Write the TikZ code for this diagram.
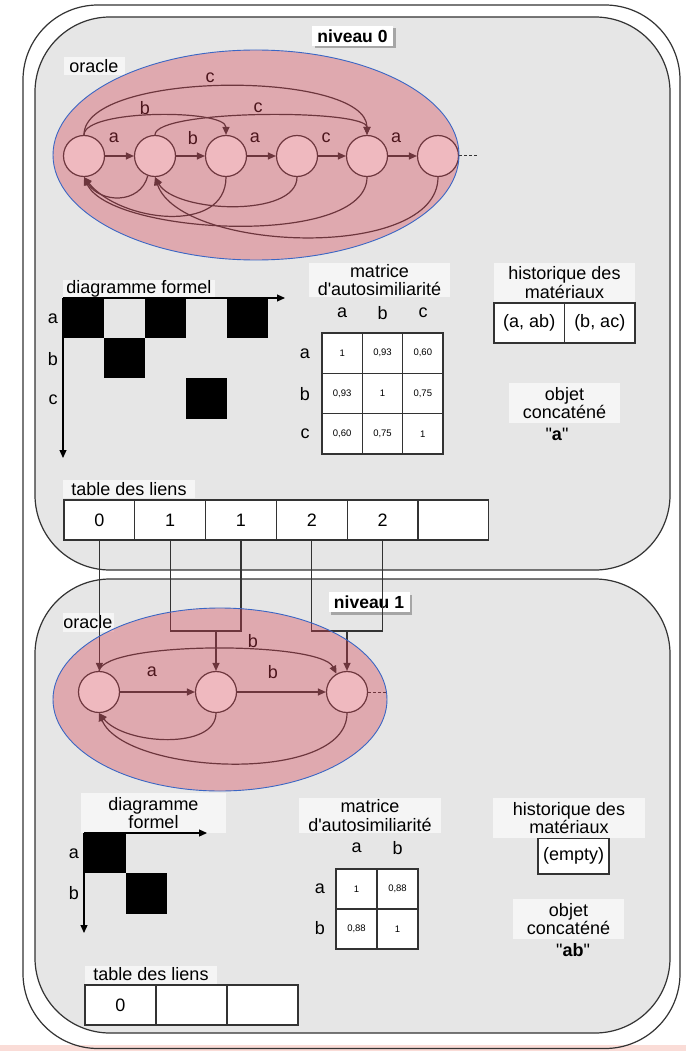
\documentclass[tikz,border=0pt]{standalone}
\usepackage{fontspec}
\setmainfont{Liberation Sans}[Ligatures=TeXOff]
\usetikzlibrary{arrows.meta,shapes.geometric,shadows}
\definecolor{boxgray}{HTML}{E6E6E6}
\definecolor{lblbg}{HTML}{F5F5F5}
\definecolor{linec}{HTML}{333333}
\definecolor{oraclepink}{RGB}{213,61,80}
\definecolor{oracleblue}{HTML}{3A66C4}
\definecolor{stripc}{HTML}{FADCD7}
\begin{document}
\begin{tikzpicture}[x=1pt,y=-1pt,
  lvl/.style={draw=linec, line width=1.2pt, fill=boxgray, rounded corners=75pt},
  lblbox/.style={fill=lblbg, inner sep=0pt, align=center, font=\fontsize{18}{18.5}\selectfont},
  txt/.style={inner sep=0pt, font=\fontsize{18}{20}\selectfont},
  st/.style={circle, draw=linec, fill=white, minimum size=41pt, inner sep=0pt, line width=1.2pt},
  edge/.style={draw=linec, line width=1.2pt, -{Triangle[length=8pt,width=7pt]}},
  cell/.style={draw=linec, fill=white, line width=1.2pt, inner sep=0pt, minimum height=40pt, font=\fontsize{18}{20}\selectfont},
  mcell/.style={draw=linec, fill=white, line width=1.2pt, inner sep=0pt, minimum width=40.5pt, minimum height=40.5pt, font=\fontsize{9.5}{11}\selectfont},
  axis/.style={draw=black, line width=1.2pt, -{Triangle[length=8pt,width=7pt]}},
  link/.style={draw=linec, line width=1.2pt},
  niv/.style={fill=white, font=\bfseries\fontsize{17.5}{20}\selectfont, inner sep=0pt, minimum width=81pt, minimum height=20pt, drop shadow={shadow xshift=2.5pt, shadow yshift=-2.5pt, fill=black!35, opacity=1}},
  oracleshape/.style={ellipse, fill=oraclepink, fill opacity=0.36, draw=oracleblue, draw opacity=1, line width=0.9pt, inner sep=0pt}
]
\useasboundingbox (0,0) rectangle (686,1051);
\fill[white] (0,0) rectangle (686,1051);
% outer frame and level boxes
\draw[draw=linec, line width=1.2pt, fill=white, rounded corners=75pt] (23,5) rectangle (680,1048.5);
\draw[lvl] (35,17) rectangle (670,570);
\draw[lvl] (35,579) rectangle (670,1033);
\fill[stripc] (0,1045) rectangle (686,1051);
\begin{scope}
\clip (0,1045) rectangle (686,1051);
\draw[draw=linec, line width=1.2pt, rounded corners=75pt] (23,5) rectangle (680,1048.5);
\end{scope}

% ================= LEVEL 0 =================
\node[niv] (niv0) at (352.5,36) {niveau 0};
\node[lblbox, minimum width=61pt, minimum height=18pt] (orl0) at (94,66) {oracle};

\node[st] (a0) at (84,156) {};
\node[st] (a1) at (155,156) {};
\node[st] (a2) at (226,156) {};
\node[st] (a3) at (297,156) {};
\node[st] (a4) at (367,156) {};
\node[st] (a5) at (438,156) {};
\coordinate (d0) at (478,156);
\draw[edge] (a0) -- (a1);
\draw[edge] (a1) -- (a2);
\draw[edge] (a2) -- (a3);
\draw[edge] (a3) -- (a4);
\draw[edge] (a4) -- (a5);
\draw[linec, line width=1pt, dashed, dash pattern=on 3pt off 2pt] (a5) -- (d0);
\node[txt] (la01) at (114,138) {a};
\node[txt] (la12) at (193,138) {b};
\node[txt] (la23) at (255,138) {a};
\node[txt] (la34) at (326,138) {c};
\node[txt] (la45) at (396,138) {a};
\draw[edge] (a0.north) .. controls (84,70) and (367,70) .. (a4.north);
\draw[edge] (a0.north) .. controls (84,109) and (226,109) .. (a2.north);
\draw[edge] (a1.north) .. controls (155,109) and (367,109) .. (a4.north);
\node[txt] (lc04) at (210,78) {c};
\node[txt] (lb02) at (145,108) {b};
\node[txt] (lc14) at (258,108) {c};
% suffix links
\draw[edge] (a1.250) .. controls (140,205) and (100,203) .. (a0.south);
\draw[edge] (a2.south) .. controls (226,235) and (120,222) .. (a0.south);
\draw[edge] (a3.south) .. controls (297,218) and (175,213) .. (a1.south);
\draw[edge] (a4.south) .. controls (367,248) and (110,235) .. (a0.south);
\draw[edge] (a5.south) .. controls (438,262) and (180,252) .. (a1.south);
\node[oracleshape, minimum width=406pt, minimum height=210pt] (oracle0) at (256,155) {};

% diagramme formel level 0
\node[lblbox, minimum width=152pt, minimum height=17pt] (df0) at (139,288.5) {diagramme formel};
\coordinate (o0) at (63,298);
\coordinate (ox0) at (285,298);
\coordinate (oy0) at (63,458);
\fill[black] (63,298) rectangle (104,338);
\fill[black] (145,298) rectangle (186,338);
\fill[black] (227,298) rectangle (268,338);
\fill[black] (104,338) rectangle (145,378);
\fill[black] (186,378) rectangle (227,419);
\draw[axis] (o0) -- (ox0);
\draw[axis] (o0) -- (oy0);
\node[txt] (dfa0) at (53,319) {a};
\node[txt] (dfb0) at (53,359) {b};
\node[txt] (dfc0) at (53,400) {c};

% matrice level 0
\node[lblbox, minimum width=141pt, minimum height=34pt] (mt0) at (379.5,280) {matrice\\d\textquotesingle autosimiliarité};
\node[txt] (mca0) at (342,313) {a};
\node[txt] (mcb0) at (382.5,313) {b};
\node[txt] (mcc0) at (423,313) {c};
\node[txt] (mra0) at (305,354) {a};
\node[txt] (mrb0) at (305,394) {b};
\node[txt] (mrc0) at (305,434) {c};
\node[mcell] (m00) at (342.2,353.2) {1};
\node[mcell] (m01) at (382.5,353.2) {0,93};
\node[mcell] (m02) at (422.8,353.2) {0,60};
\node[mcell] (m10) at (342.2,393.5) {0,93};
\node[mcell] (m11) at (382.5,393.5) {1};
\node[mcell] (m12) at (422.8,393.5) {0,75};
\node[mcell] (m20) at (342.2,433.8) {0,60};
\node[mcell] (m21) at (382.5,433.8) {0,75};
\node[mcell] (m22) at (422.8,433.8) {1};

% historique level 0
\node[lblbox, minimum width=141pt, minimum height=39pt] (hi0) at (564.5,282.5) {historique des\\matériaux};
\node[cell, minimum width=70.5pt] (h00) at (529.25,323) {(a, ab)};
\node[cell, minimum width=70.5pt] (h01) at (599.75,323) {(b, ac)};

% objet concatene level 0
\node[lblbox, minimum width=111pt, minimum height=40pt] (ob0) at (564.5,403) {objet\\concaténé};
\node[txt] (oc0) at (557,434) {"\textbf{a}"};

% table des liens level 0
\node[lblbox, minimum width=132pt, minimum height=18pt] (tl0) at (129,489) {table des liens};
\node[cell, minimum width=70.8pt] (t0) at (99.4,520) {0};
\node[cell, minimum width=70.8pt] (t1) at (170.2,520) {1};
\node[cell, minimum width=70.8pt] (t2) at (241.0,520) {1};
\node[cell, minimum width=70.8pt] (t3) at (311.8,520) {2};
\node[cell, minimum width=70.8pt] (t4) at (382.6,520) {2};
\node[cell, minimum width=70.8pt] (t5) at (453.4,520) {};

% ================= LEVEL 1 =================
\node[niv] (niv1) at (369,602) {niveau 1};
\node[lblbox, minimum width=51pt, minimum height=19pt] (orl1) at (88,622) {oracle};

\node[st] (b0) at (99,692) {};
\node[st] (b1) at (216,692) {};
\node[st] (b2) at (347,692) {};
\coordinate (d1) at (388,692);
\draw[edge] (b0) -- (b1);
\draw[edge] (b1) -- (b2);
\draw[linec, line width=1pt, dashed, dash pattern=on 3pt off 2pt] (b2) -- (d1);
\node[txt] (lb01) at (152,672) {a};
\node[txt] (lb12) at (273,672) {b};
\draw[edge] (b0.north) .. controls (105,641) and (320,641) .. (b2.120);
\node[txt] (lb02u) at (253,641) {b};
\draw[edge] (b1.south) .. controls (216,750) and (125,745) .. (b0.south);
\draw[edge] (b2.south) .. controls (347,785) and (125,775) .. (b0.south);

% links from table to level 1
\coordinate (m1) at (216,631);
\coordinate (m2) at (347,631);
\draw[edge] (t0.south) -- (t0.south |- b0.north);
\draw[link] (t1.south) |- (m1);
\draw[link] (t2.south) |- (m1);
\draw[edge] (m1) -- (b1.north);
\draw[link] (t3.south) |- (m2);
\draw[link] (t4.south) |- (m2);
\draw[edge] (m2) -- (b2.north);

\node[oracleshape, minimum width=334pt, minimum height=183pt] (oracle1) at (220,699.5) {};

% diagramme formel level 1
\node[lblbox, minimum width=145pt, minimum height=40pt] (df1) at (153.5,813) {diagramme\\formel};
\coordinate (o1) at (84,833);
\coordinate (ox1) at (207,833);
\coordinate (oy1) at (84,933);
\fill[black] (84,833) rectangle (126,873);
\fill[black] (126,873) rectangle (167,914);
\draw[axis] (o1) -- (ox1);
\draw[axis] (o1) -- (oy1);
\node[txt] (dfa1) at (74,854) {a};
\node[txt] (dfb1) at (74,893) {b};

% matrice level 1
\node[lblbox, minimum width=142pt, minimum height=35pt] (mt1) at (370,815.5) {matrice\\d\textquotesingle autosimiliarité};
\node[txt] (mca1) at (356.5,848) {a};
\node[txt] (mcb1) at (397.5,848) {b};
\node[txt] (mra1) at (320,889) {a};
\node[txt] (mrb1) at (320,928) {b};
\node[mcell, minimum width=41pt, minimum height=40pt] (n00) at (356.5,889) {1};
\node[mcell, minimum width=41pt, minimum height=40pt] (n01) at (397.5,889) {0,88};
\node[mcell, minimum width=41pt, minimum height=40pt] (n10) at (356.5,929) {0,88};
\node[mcell, minimum width=41pt, minimum height=40pt] (n11) at (397.5,929) {1};

% historique level 1
\node[cell, minimum width=71pt, minimum height=36pt] (h10) at (573.5,856) {(empty)};
\node[lblbox, minimum width=152pt, minimum height=40pt] (hi1) at (569,818) {historique des\\matériaux};

% objet concatene level 1
\node[lblbox, minimum width=111pt, minimum height=40pt] (ob1) at (568.5,919) {objet\\concaténé};
\node[txt] (oc1) at (573,950) {"\textbf{ab}"};

% table des liens level 1
\node[lblbox, minimum width=132pt, minimum height=18pt] (tl1) at (151,974.5) {table des liens};
\node[cell, minimum width=71pt] (u0) at (120.5,1005) {0};
\node[cell, minimum width=71pt] (u1) at (191.5,1005) {};
\node[cell, minimum width=71pt] (u2) at (262.5,1005) {};
\end{tikzpicture}
\end{document}
